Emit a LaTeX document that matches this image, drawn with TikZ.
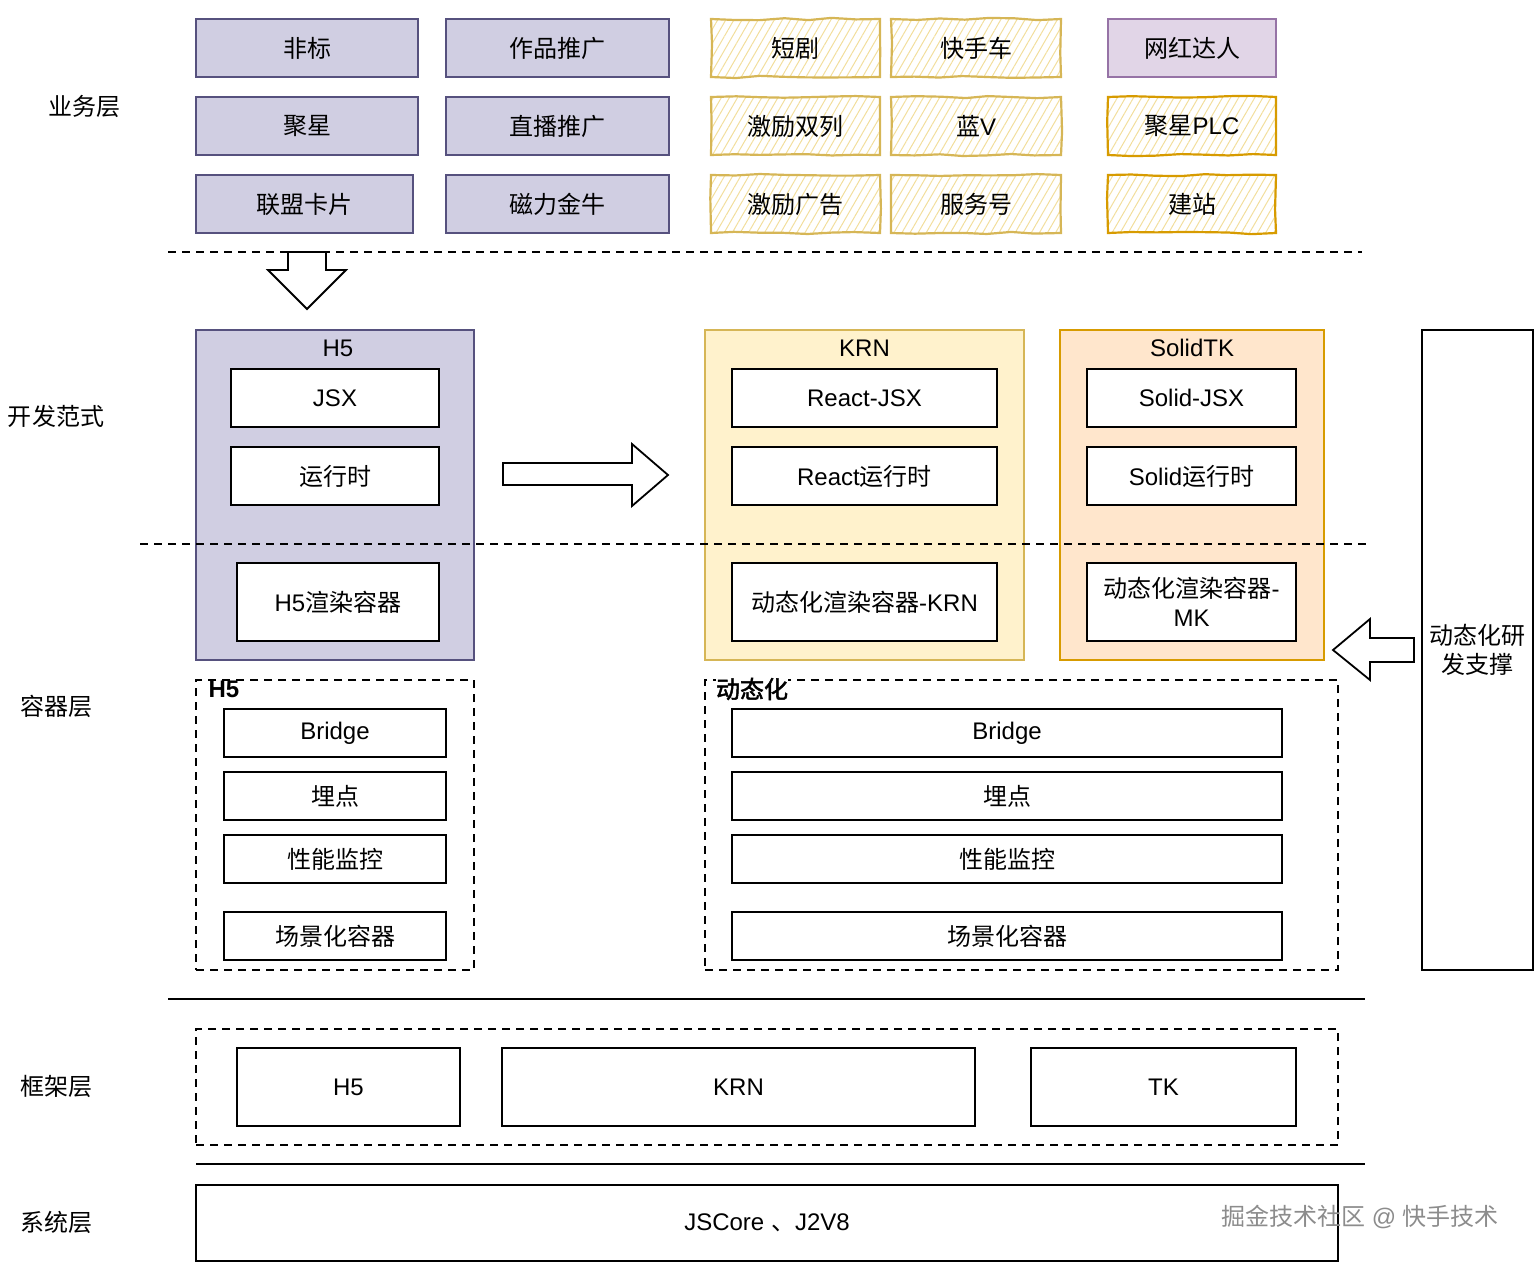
\documentclass[tikz,border=0pt]{standalone}
\usepackage{fontspec}
\setmainfont{Liberation Sans}
\newfontfamily\cjk[AutoFakeBold=2]{Noto Sans CJK SC}
\usetikzlibrary{positioning,patterns.meta,decorations.pathmorphing}

\definecolor{lavfill}{HTML}{D0CEE2}
\definecolor{lavdraw}{HTML}{56517E}
\definecolor{purfill}{HTML}{E1D5E7}
\definecolor{purdraw}{HTML}{9673A6}
\definecolor{yelfill}{HTML}{FFF2CC}
\definecolor{yeldraw}{HTML}{D6B656}
\definecolor{orafill}{HTML}{FFE6CC}
\definecolor{oradraw}{HTML}{D79B00}
\definecolor{hatch}{HTML}{F2DE9C}

\begin{document}
\begin{tikzpicture}[x=0.5pt, y=-0.5pt,
    font=\fontsize{12}{14.5}\selectfont,
    box/.style={rectangle, draw, line width=0.9pt, fill=white, inner sep=1pt, align=center},
    lav/.style={box, fill=lavfill, draw=lavdraw},
    pur/.style={box, fill=purfill, draw=purdraw},
    sketch/.style={box, draw=yeldraw, line width=1.1pt,
      pattern={Lines[angle=60, distance=3.5pt, line width=0.5pt]}, pattern color=hatch,
      decorate, decoration={random steps, segment length=12pt, amplitude=0.6pt}},
    sketchora/.style={sketch, draw=oradraw},
    group/.style={rectangle, draw, dashed, line width=0.8pt, dash pattern=on 4pt off 3pt, inner sep=0pt},
    layer/.style={inner sep=0pt},
    divider/.style={line width=0.8pt, dash pattern=on 4pt off 3pt},
    bigarrow/.style={draw, line width=0.9pt, fill=white}
    ]
\useasboundingbox (0,0) rectangle (1534,1263);

% layer labels
\node[layer] (lbiz) at (84,106) {\cjk 业务层};
\node[layer] (ldev) at (56,416) {\cjk 开发范式};
\node[layer] (lcon) at (56,706) {\cjk 容器层};
\node[layer] (lfrm) at (56,1086) {\cjk 框架层};
\node[layer] (lsys) at (56,1222) {\cjk 系统层};

% business layer
\node[lav, minimum width=111pt, minimum height=29pt] (feibiao) at (307,48) {\cjk 非标};
\node[lav, minimum width=111pt, minimum height=29pt] (juxing) at (307,126) {\cjk 聚星};
\node[lav, minimum width=108.5pt, minimum height=29pt] (lianmeng) at (304.5,204) {\cjk 联盟卡片};
\node[lav, minimum width=111.5pt, minimum height=29pt] (zuopin) at (557.5,48) {\cjk 作品推广};
\node[lav, minimum width=111.5pt, minimum height=29pt] (zhibo) at (557.5,126) {\cjk 直播推广};
\node[lav, minimum width=111.5pt, minimum height=29pt] (cili) at (557.5,204) {\cjk 磁力金牛};
\node[sketch, minimum width=84.5pt, minimum height=29pt] (duanju) at (795.5,48) {\cjk 短剧};
\node[sketch, minimum width=84.5pt, minimum height=29pt] (jili2) at (795.5,126) {\cjk 激励双列};
\node[sketch, minimum width=84.5pt, minimum height=29pt] (jiliad) at (795.5,204) {\cjk 激励广告};
\node[sketch, minimum width=85pt, minimum height=29pt] (kscar) at (976,48) {\cjk 快手车};
\node[sketch, minimum width=85pt, minimum height=29pt] (lanv) at (976,126) {{\cjk 蓝}V};
\node[sketch, minimum width=85pt, minimum height=29pt] (fuwu) at (976,204) {\cjk 服务号};
\node[pur, minimum width=84pt, minimum height=29pt] (wanghong) at (1192,48) {\cjk 网红达人};
\node[sketchora, minimum width=84pt, minimum height=29pt] (plc) at (1192,126) {{\cjk 聚星}PLC};
\node[sketchora, minimum width=84pt, minimum height=29pt] (jianzhan) at (1192,204) {\cjk 建站};

\coordinate (d1l) at (168,252);
\coordinate (d1r) at (1362,252);
\draw[divider] (d1l) -- (d1r);

% down arrow
\draw[bigarrow] (288,252) -- (326,252) -- (326,270) -- (346,270) -- (307,309)
  -- (268,270) -- (288,270) -- cycle;

% dev paradigm
\node[lav, minimum width=139pt, minimum height=165pt] (h5) at (335,495) {};
\node[inner sep=0pt] (h5title) at (338,348) {H5};
\node[box, minimum width=104pt, minimum height=29pt] (jsx) at (335,398) {JSX};
\node[box, minimum width=104pt, minimum height=29pt] (runtime) at (335,476) {\cjk 运行时};

\node[box, fill=yelfill, draw=yeldraw, minimum width=159.5pt, minimum height=165pt] (krn) at (864.5,495) {};
\node[inner sep=0pt] (krntitle) at (864.5,348) {KRN};
\node[box, minimum width=132.5pt, minimum height=29pt] (reactjsx) at (864.5,398) {React-JSX};
\node[box, minimum width=132.5pt, minimum height=29pt] (reactrt) at (864.5,476) {React{\cjk 运行时}};

\node[box, fill=orafill, draw=oradraw, minimum width=132pt, minimum height=165pt] (solid) at (1192,495) {};
\node[inner sep=0pt] (solidtitle) at (1192,348) {SolidTK};
\node[box, minimum width=104.5pt, minimum height=29pt] (solidjsx) at (1191.5,398) {Solid-JSX};
\node[box, minimum width=104.5pt, minimum height=29pt] (solidrt) at (1191.5,476) {Solid{\cjk 运行时}};

% right arrow
\draw[bigarrow] (503,463) -- (632,463) -- (632,444) -- (668,475) -- (632,506)
  -- (632,485) -- (503,485) -- cycle;

\coordinate (d2l) at (140,544);
\coordinate (d2r) at (1366,544);
\draw[divider] (d2l) -- (d2r);

\node[box, minimum width=101pt, minimum height=39pt] (h5box) at (338,602) {H5{\cjk 渲染容器}};
\node[box, minimum width=132.5pt, minimum height=39pt] (krnbox) at (864.5,602) {{\cjk 动态化渲染容器}-KRN};
\node[box, minimum width=104.5pt, minimum height=39pt] (mkbox) at (1191.5,602) {{\cjk 动态化渲染容器}-\\MK};

% dynamic support
\node[box, minimum width=55.5pt, minimum height=320pt] (support) at (1477.5,650) {\cjk 动态化研\\\cjk 发支撑};
\draw[bigarrow] (1414,638) -- (1370,638) -- (1370,619) -- (1333,650) -- (1370,680)
  -- (1370,662) -- (1414,662) -- cycle;

% container layer
\node[group, minimum width=139pt, minimum height=145pt] (h5grp) at (335,825) {};
\node[fill=white, inner sep=0pt, font=\fontsize{12}{14.5}\selectfont\bfseries] (h5grplbl) at (224,689) {H5};
\node[box, minimum width=111pt, minimum height=24pt] (h5bridge) at (335,733) {Bridge};
\node[box, minimum width=111pt, minimum height=24pt] (h5track) at (335,796) {\cjk 埋点};
\node[box, minimum width=111pt, minimum height=24pt] (h5perf) at (335,859) {\cjk 性能监控};
\node[box, minimum width=111pt, minimum height=24pt] (h5scene) at (335,936) {\cjk 场景化容器};

\node[group, minimum width=316.5pt, minimum height=145pt] (dyngrp) at (1021.5,825) {};
\node[fill=white, inner sep=0pt, font=\fontsize{12}{14.5}\selectfont\bfseries] (dyngrplbl) at (752,689) {\cjk 动态化};
\node[box, minimum width=275pt, minimum height=24pt] (dynbridge) at (1007,733) {Bridge};
\node[box, minimum width=275pt, minimum height=24pt] (dyntrack) at (1007,796) {\cjk 埋点};
\node[box, minimum width=275pt, minimum height=24pt] (dynperf) at (1007,859) {\cjk 性能监控};
\node[box, minimum width=275pt, minimum height=24pt] (dynscene) at (1007,936) {\cjk 场景化容器};

\coordinate (s1l) at (168,999);
\coordinate (s1r) at (1365,999);
\draw[line width=0.9pt] (s1l) -- (s1r);

% framework layer
\node[group, minimum width=571pt, minimum height=58pt] (frmgrp) at (767,1087) {};
\node[box, minimum width=111.5pt, minimum height=39pt] (frmh5) at (348.5,1087) {H5};
\node[box, minimum width=236.5pt, minimum height=39pt] (frmkrn) at (738.5,1087) {KRN};
\node[box, minimum width=132.5pt, minimum height=39pt] (frmtk) at (1163.5,1087) {TK};

\coordinate (s2l) at (196,1164);
\coordinate (s2r) at (1365,1164);
\draw[line width=0.9pt] (s2l) -- (s2r);

% system layer
\node[box, minimum width=571pt, minimum height=38pt] (jscore) at (767,1223) {JSCore {\cjk 、}J2V8};

% watermark
\node[text=black!45, inner sep=0pt] (mark) at (1360,1217) {{\cjk 掘金技术社区} @ {\cjk 快手技术}};
\end{tikzpicture}
\end{document}
